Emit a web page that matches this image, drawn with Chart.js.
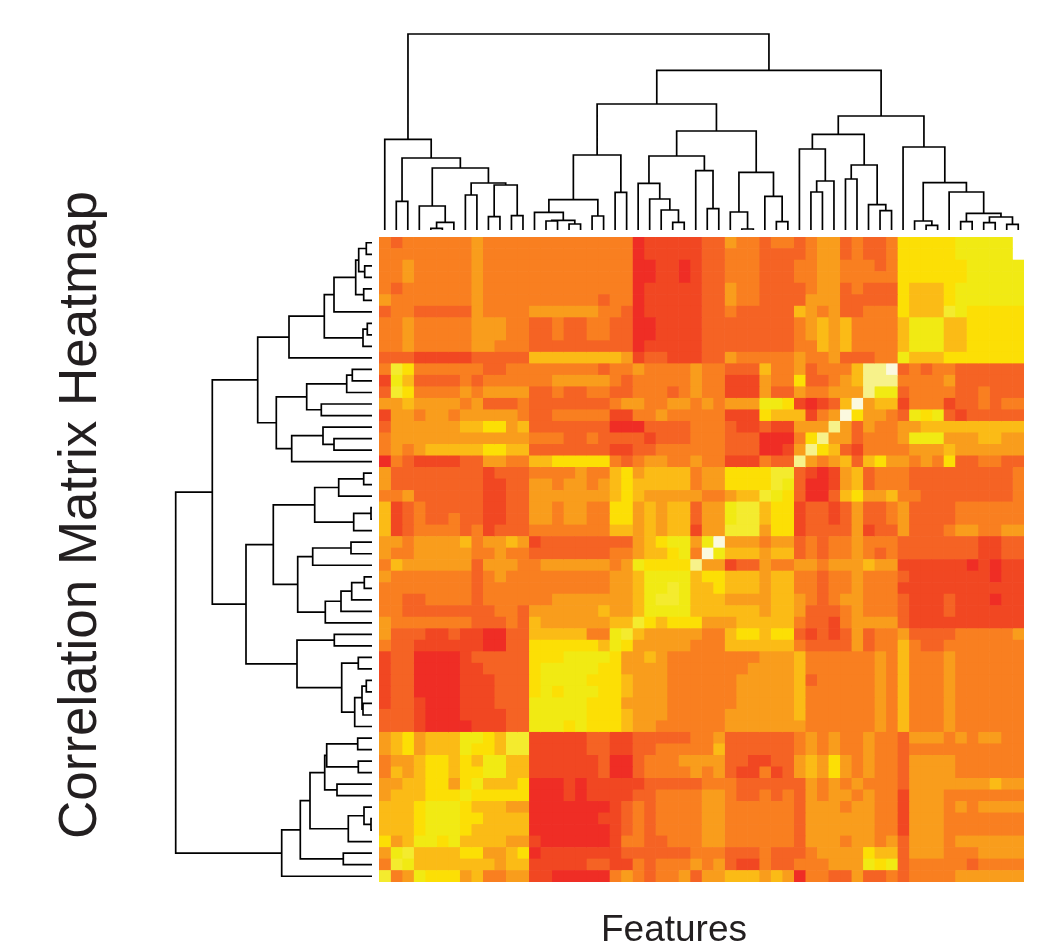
<!DOCTYPE html>
<html>
<head>
<meta charset="utf-8">
<title>Correlation Matrix Heatmap</title>
<script src="https://cdn.jsdelivr.net/npm/chart.js@4/dist/chart.umd.min.js"></script>
<style>
  html, body { margin: 0; padding: 0; background: #fff; }
  canvas { display: block; }
</style>
</head>
<body>
<canvas id="grafico" width="1043" height="944"></canvas>
<script>
// colour bands, palest to reddest. The row strings below hold band numbers (A = 10)
const bandColours = ['#FBF9DF', '#F7F28A', '#F4EB2E', '#F1EA13', '#FCDF05', '#FBBB16',
                     '#F99D1C', '#F97F20', '#F56324', '#F14722', '#EF2D25'];

// heatmap rows, top to bottom. "7*6" = six cells of band 7, "." = empty cell
const heatRows = [
  '7 8 7*6 6 7*13 A 9*5 8*2 6 7*2 8 7*2 8 7 6*2 8 7 8*2 7 4*5 3*5 .',
  '7*8 6 7*13 A 9*5 8*2 7*3 8*4 7 6*2 8 7 8*2 7 4*5 3*5 .',
  '7*2 6 7*5 6 7*13 A*2 9*2 A 9 8*2 7*3 8*3 7*2 6*2 7*3 8 7 4*6 3*5',
  '7*2 6 7*5 6 7*13 A*2 9*2 A 9 8*2 7*3 8*3 7*2 6*2 7*5 4*6 3*5',
  '7 8 7*6 6 7*13 A 9*5 8*2 6 7*2 8*4 7 6*2 8 7 8*3 4 5*3 4 3*6',
  '6 7*7 6 7*10 8 7*2 A 9*5 8*2 6 7*2 8*4 6*3 8*5 4 5*3 4 3*6',
  '8 7*2 8*5 6 7*4 6*6 7*2 8 A 9*5 8*2 7 8*5 5 6 7 6 8*2 7*3 4 5*3 2 3 4*5',
  '7*2 6 7*5 6*3 7*2 8*2 7 8*2 7*2 8*2 A*2 9*4 8*8 7 6 5 6 5 7*4 5 3*3 5*2 4*5',
  '7*2 6 7*5 6*3 7*2 8*2 7 8*2 7*2 8*2 A*2 9*4 8*8 7 6 5 6 5 7*4 5 3*3 5*2 4*5',
  '7*2 6 7*5 6*2 7*3 8*9 A 9*5 8*8 7*2 5 6 5 7*4 5 3*3 5*2 4*5',
  '8*3 9*5 8*5 5*8 6 9 8*2 9*3 8*2 6 7*5 6 7*2 6 8*3 7*2 3 5*3 4*7',
  '7 2 4 7*6 8*2 7*8 8 7*2 6 7*4 6 7*2 8*3 5 7*2 6 8 7*3 5 1*2 0 8 7 8 7*2 8*6',
  '9 3 5 8*4 7 8 7*6 6*5 7 8 7*5 6 7*2 9*3 6 7*2 4 8*2 7 6 5 1*3 7*4 6 8*6',
  '8 2 4 7*4 6 7 6*4 8*2 7 8*2 7*2 8*2 7*3 8 7 6 7*2 9*3 6 8*2 6 7*2 6*3 1 3*2 8 7*4 8*2 7 8*3',
  '6*2 5 6*4 7 6 8*3 7 8*7 7 6*2 7*2 6*2 7 6 7 6*3 3*2 4 9 A 9 8 5 0 6 5*2 9 7*3 9 8*2 7 8 7*2',
  '9 6*2 7 6*2 7 6*5 7 8*2 7*5 9*2 7*2 6 7*3 7*2 9*3 4 5*3 9 7 6 0 4 6*2 7 8 3 4 3 8 9 8*5',
  '8 6*6 5*2 4*2 6 5 8*7 A*3 8*4 7 7*2 8 9*2 8 9*2 6*3 1 6 8 6 7*2 6*2 5*9',
  '7 6*12 7*3 8*2 7 8*4 9 8*3 7 7*2 8*3 A*3 7 4 1 6*2 8 7*3 6 3*3 6*3 5*2 6*2',
  '7 6 7 6 5*5 4*2 5*2 8*7 9*2 8*2 7*4 7*2 8*3 A*2 9 6 1 4 5 8 9 7*4 6*3 5 6*6',
  'A 7 8 9*4 8*2 6*2 7*2 5*2 4*5 7 8 7 6*2 7*2 6 7*2 9*3 7 8*2 1 6 7 6 5 8 5 4 6*2 7 6 7 4 8*2 7*2 8*2',
  '6 8*8 9 8*3 7*4 6 7*2 5 4 6 5*4 7 6*2 4*4 2*2 8 9 A 9 6 5 8 7*3 8*9 7',
  '6 8*8 9*2 8*2 6*2 7 6*2 7 6 5 4 5*5 7 6*2 4*4 2 3 8 A*2 9 6 5 8 7*3 8*9 7',
  '7*2 6 8*6 9*2 8*2 6*7 5 4 5 6*5 7*2 6 5*2 2 3 4 8 A*2 8 5 4 6*2 5 7*2 8*8 7',
  '5 9 8 7 8*5 9*2 8*2 6*2 7 6*2 7*2 4*2 6 5 6 5*2 8 6*2 3 2*2 5 4*2 9 8*2 9 8 6 8*2 7 6 8*4 7*6',
  '5 9 8 7 8*2 7 8*2 9*2 8*2 6*2 7 6*2 7*2 4*2 6 5 6 5*2 8 6*2 3 2*2 5 4*2 9 8*2 9 8 6 8*2 7 6 8*4 7*6',
  '5 9 8 7*4 8 7 9 8*3 7*7 5*2 6 5 6 5*2 9 6*2 2*3 6 4*2 9 8*4 6 9 8*2 6 8*3 7 6*2 7*2 6*2',
  '6*2 7 6*4 5 7 6*2 5 6 9 8*8 6 5 4 3*2 6 3 0 6*3 7 6*2 8 7 8 7*2 6 7*3 8*7 9*2 8*2',
  '6 7*2 6*5 7*2 6 7*2 8*7 7*2 6 5*2 4 3 7 0 3 5*3 6 5*2 8 7 8 7*2 6 7 8 7 8*7 9*2 8*2',
  '7 5 6*6 8 6*3 7*2 6*6 7 6 3 4*4 1 6*2 9 8*2 6 7*2 6*2 7 6*3 5 6*2 9*6 A 9 A 9*2',
  '6 7*7 8 7 6 7*9 6*2 5 3*4 5 4*2 5*3 6 5*2 7*2 8 7*2 6 7*3 8 9*7 A 9*2',
  '7*8 8 7*11 6*2 5 3*2 2 3 5 5 4 5*3 6 5*2 7*2 8 7*2 6 7*3 9*11',
  '7*2 8*2 7*4 8 7*6 6*7 5 3 2*2 3 5 5*2 6*4 5*2 6 7 8 7 6*2 7*3 8 9*3 8 9*3 A 9*2',
  '7*2 8*8 7*2 8 6*6 5 6*2 5 3*4 5 5*5 6 5*2 6 8*3 7 6 7*3 8 9*3 8 9*6',
  '6 7*7 8*3 7 8 5 6*6 5*2 2 4 5 4*3 6*3 5*5 7 8*2 9 7 6*4 8 9*10',
  '6 8*3 9*2 8 9*2 A*2 8*2 5*5 7*2 3 2 5 6*5 7*2 5 4*2 5 4*2 8 9 8 9 8 6 8 7*2 6 8*4 7*5 6',
  '7 8*2 9*6 A*2 8*2 4*6 5 3 4 6*5 7 7*2 5*6 7 8*4 6 8 7*2 5 7 8*2 7*7',
  '9 8*2 A*4 9 8*5 4*3 3*4 4 6*2 5 6 7*3 7*5 6*3 5 7*6 6 7 5 7*3 6 7*6',
  '9 8*2 A*4 9*2 8*4 4 3*5 4*2 6*4 7*3 7*4 6*4 5 7*6 6 7 5 7*3 6 7*6',
  '9 8*2 A*4 9*3 8*3 4 3*4 4*3 5 6*3 7*3 7*3 6*5 5 8 7*5 6 7 5 7*3 6 7*6',
  '9 8*2 A*4 9*3 8*3 4 3 4 3*3 4*2 5 6*3 7*3 7*3 6*5 5 7*6 6 7 5 7*3 6 7*6',
  '9 8*2 9 A*3 9*3 8*3 3*5 4*3 6*4 7*3 7*3 6*5 5 7*6 6 7 5 7*3 6 7*6',
  '8*3 9 A*3 9*4 8*2 3*5 4*3 5 6*3 7*3 7*2 6*6 5 7*6 6 7 5 7*3 6 7*6',
  '8*3 9 A*4 9*3 8*2 3*3 4 3 4*3 5 6*2 7*4 7*2 6*7 7*6 6 7 5 7*3 6 7*6',
  '6 5 4 6 5*3 3*2 4 5 2*2 9*5 8*2 9*2 8*5 7 7 6 8*6 7 6 7 6 7*2 6 7*2 8 6*3 7 6 7 6*2 7*2',
  '6 5 4 6 5*3 3 4*2 5 2*2 9*5 8*2 9*2 8*2 7*4 7 5 8*6 7 6 7 6 7*2 6 7*2 8 7*10',
  '7 6*2 5 4*2 5 4 5 3*2 5*2 9*6 8 A*2 8 7*3 6*2 6*2 8*2 9*2 8*2 6 5 6 4 6 7 6 7*2 8 6*4 7*6',
  '7 5 6 5 4*2 5 4*2 3*2 5*2 9*6 8 A*2 8 7*4 6 7 6 8 9*2 7 9 8 6 5 6 4 6 7 6 7*2 8 6*4 7*6',
  '6*2 5*2 4*2 6 4 3 5*3 4 A*3 9 A 9*5 8*5 7*3 8*6 6 7 6 7 6 7*3 8 6*7 5 6*2',
  '6 5*3 4*3 3 4*5 A*3 9 A 9*4 8*2 7*4 6*2 7 8*2 7 8 7 8 6 7 6*2 7 6 7*2 9 6*3 7*7',
  '5*3 4 3*3 4 5*3 6*2 A*7 9 8 7 8 7*4 6*2 7*6 8 6*3 7 6*2 7*2 9 6*3 7 6 7 6*4',
  '5*3 4 3*3 4*2 5*4 A*6 9*2 8 7 8 7*4 6*2 7*6 8 6*6 7*2 9 6*3 7*7',
  '5*3 4 3*3 4 5*5 A*7 9 8 7 8 7*4 6*2 7*6 8 6*6 7*2 9 6*3 7*7',
  '4 6 5 3*2 4 3 5*4 6*2 9 A*6 9 7*2 8*2 7*3 6*2 7*6 8 6*3 7 6*2 7 6 8 6*3 7 6*6',
  '6 3 2 5*4 4*2 6*2 5 4 A 9*7 8*6 7 7*2 8*3 7 8*3 7 6*4 4 5*2 8 6*3 7*3 6*4',
  '7 2 3 5*7 6 5*2 9*5 8*2 9*2 7 8 7*3 6 7 6 8 9*2 7 8*2 7*3 6*3 3 4 3 8 7*5 8 7*4',
  '2 7 6 3 4*3 6 5 7*2 6*2 9*2 A*5 7 6 7 8 7*2 6 8 6*2 5*3 6 5 6 A 7*2 8*2 6 8*2 7 8 7*4 6*6'
];

// dendrograms: [merge height, child, child], 0 = leaf. Leaves run in heatmap order
const topFirst = [90.7, 0, [72, [28.7, 0, 0], [62, [24, 0, [7.7, [1.7, 0, 0], 0]], [47, [35, 0, 0], [45, [13.3, 0, 0], [14.3, 0, 0]]]]]];
const topMiddleA = [75, [30.3, [17.7, 0, [9.7, [9, 0, 0], [6, 0, 0]]], [14, 0, 0]], [37.7, 0, 0]];
const topMiddleB = [74, [46.7, 0, [31, 0, [20, 0, [7.7, 0, 0]]]], [59.3, 0, [21.3, 0, 0]]];
const topMiddleC = [57.7, [18, 0, [1, 0, 0]], [33.7, 0, [8.3, 0, 0]]];
const topLastA = [95.7, [81, 0, [49, [38, 0, 0], 0]], [65, [51, 0, 0], [25.3, 0, [19.3, 0, 0]]]];
const topLastB = [83, 0, [47.3, [9, 0, [4.7, 0, 0]], [38, 0, [16.7, [8.3, 0, 0], [13, [7.3, 0, 0], [5.7, 0, 0]]]]]];
const topTree = [196, topFirst, [159.7, [126, topMiddleA, [99, topMiddleB, topMiddleC]], [114, topLastA, topLastB]]];

const leftFirst = [83, [47.7, [38, [16.3, [13.3, [5.7, 0, 0], [7.3, 0, 0]], [8.3, 0, 0]], 0], [9, [4.7, 0, 0], 0]], 0];
const leftSecond = [95.7, [65.3, [25.3, [19.7, 0, 0], 0], [50.7, 0, 0]], [80.3, [49, 0, [38, 0, 0]], 0]];
const leftThird = [57.3, [33.3, [8.3, 0, 0], 0], [18.3, [1, 0, 0], 0]];
const leftFourth = [74.3, [59.3, [21, 0, 0], 0], [46.7, [31, [20.3, [7.7, 0, 0], 0], 0], 0]];
const leftFifth = [75, [37.7, 0, 0], [30.3, [13.7, 0, 0], [17.3, [10, [5.7, 0, 0], [9, 0, 0]], 0]]];
const leftLast = [90.3, [71.7, [62, [47.3, [45.3, [14.3, 0, 0], [13.7, 0, 0]], [35, 0, 0]], [23.7, [8, 0, [1, 0, 0]], 0]], [28.7, 0, 0]], 0];
const leftTree = [196.3, [159.7, [114.3, leftFirst, leftSecond], [126, [98.7, leftThird, leftFourth], leftFifth]], leftLast];

const xTitle = 'Features';
const yTitle = 'Correlation Matrix Heatmap';

function expandRow(texto) {
    const celdas = [];
    texto.split(' ').forEach(trozo => {
        const partes = trozo.split('*');
        const veces = partes[1] ? Number(partes[1]) : 1;
        for (let i = 0; i < veces; i++) celdas.push(partes[0]);
    });
    if (celdas.length !== 56) throw new Error('fila mal: ' + texto + ' -> ' + celdas.length);
    return celdas;
}

const cells = heatRows.map(expandRow);
const rowLabels = cells.map((_, r) => String(r));

// one floating-bar dataset per column
const columnDatasets = cells[0].map((_, c) => ({
    type: 'bar',
    indexAxis: 'y',
    xAxisID: 'x',
    yAxisID: 'y',
    grouped: false,
    barPercentage: 1,
    categoryPercentage: 1,
    borderWidth: 0,
    data: cells.map(fila => fila[c] === '.' ? null : [c, c + 1]),
    backgroundColor: cells.map(fila => fila[c] === '.' ? '#fff' : bandColours[parseInt(fila[c], 16)])
}));

// walk a tree, each merge gives an upside-down U, separated by NaN gaps
function treeToPath(tree, toPoint) {
    const puntos = [];
    let hoja = 0;
    function walk(nodo) {
        if (nodo === 0) return { pos: 0.5 + hoja++, h: 0 };
        const a = walk(nodo[1]);
        const b = walk(nodo[2]);
        puntos.push(toPoint(a.pos, a.h), toPoint(a.pos, nodo[0]),
                    toPoint(b.pos, nodo[0]), toPoint(b.pos, b.h), { x: NaN, y: NaN });
        return { pos: (a.pos + b.pos) / 2, h: nodo[0] };
    }
    walk(tree);
    return puntos;
}

function treeDataset(puntos, xId, yId) {
    return {
        type: 'scatter',
        showLine: true,
        spanGaps: false,
        clip: false,
        xAxisID: xId,
        yAxisID: yId,
        data: puntos,
        borderColor: '#000',
        borderWidth: 1.7,
        pointRadius: 0,
        tension: 0
    };
}

// both titles sit off-centre from the heatmap, so they are placed by hand
const chartTitles = {
    id: 'chartTitles',
    afterDraw(chart) {
        const ctx = chart.ctx;
        ctx.save();
        ctx.fillStyle = '#231f20';
        ctx.textAlign = 'center';
        ctx.textBaseline = 'alphabetic';
        ctx.font = '37px "Liberation Sans"';
        ctx.fillText(xTitle, 674, 941);
        ctx.translate(96, 515);
        ctx.rotate(-Math.PI / 2);
        ctx.font = '53px "Liberation Sans"';
        ctx.fillText(yTitle, 0, 0);
        ctx.restore();
    }
};

const hidden = { display: false };

new Chart(document.getElementById('grafico').getContext('2d'), {
    data: {
        labels: rowLabels,
        datasets: [
            ...columnDatasets,
            treeDataset(treeToPath(topTree, (pos, h) => ({ x: pos, y: h })), 'x', 'yTop'),
            treeDataset(treeToPath(leftTree, (pos, h) => ({ x: h, y: pos })), 'xLeft', 'yRows')
        ]
    },
    options: {
        responsive: false,
        animation: false,
        layout: { padding: { left: 379, right: 19, top: 237, bottom: 62 } },
        plugins: { legend: hidden, tooltip: { enabled: false }, title: hidden },
        scales: {
            x: { type: 'linear', display: false, min: 0, max: 56 },
            y: { type: 'category', display: false, offset: true, grid: { offset: true } },
            // same plot box, values run on past it so the trees sit outside the heatmap
            yTop: { type: 'linear', axis: 'y', display: false, min: -652, max: -7 },
            yRows: { type: 'linear', axis: 'y', display: false, min: 0, max: 56, reverse: true },
            xLeft: { type: 'linear', axis: 'x', display: false, min: -652, max: -7, reverse: true }
        }
    },
    plugins: [chartTitles]
});
</script>
</body>
</html>
